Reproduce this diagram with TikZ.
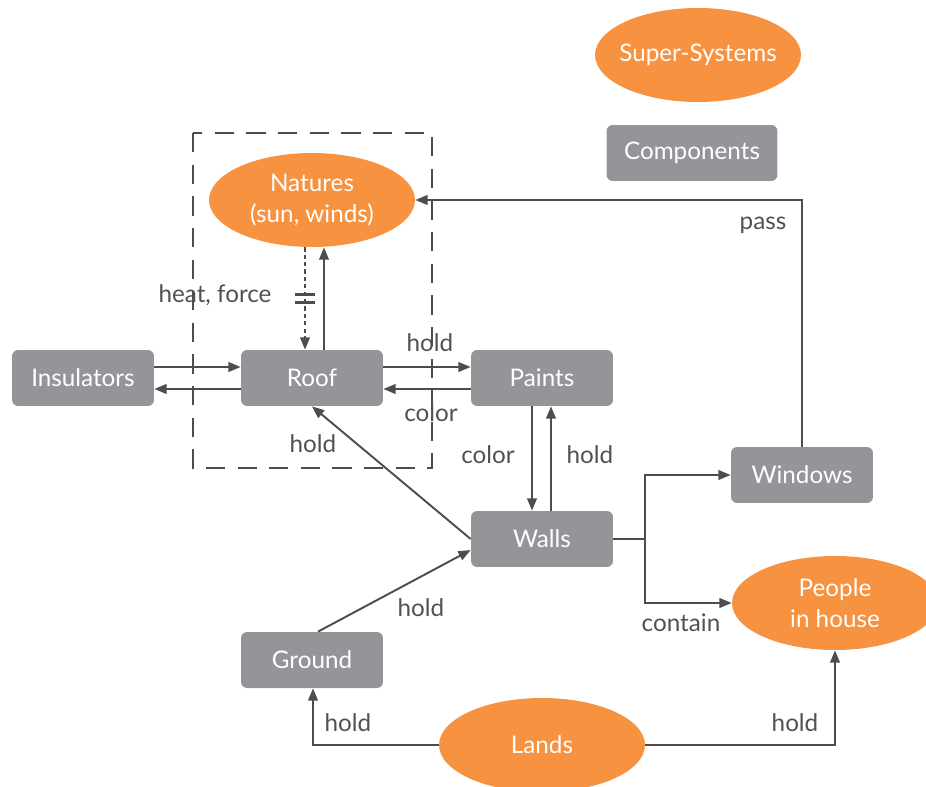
\documentclass[tikz,border=0pt]{standalone}
\usepackage{fontspec}
\setmainfont{Lato}
\usetikzlibrary{shapes.geometric,arrows.meta}
\definecolor{boxgray}{HTML}{939598}
\definecolor{sysorange}{HTML}{F69240}
\definecolor{linegray}{HTML}{4D4D4F}
\definecolor{txtgray}{HTML}{505153}
\tikzset{
  comp/.style={rectangle, rounded corners=3.5pt, fill=boxgray, text=white,
    minimum width=2.84cm, minimum height=1.12cm, inner sep=0pt},
  supsys/.style={ellipse, fill=sysorange, text=white, align=center,
    minimum width=4.12cm, minimum height=1.88cm, inner sep=0pt},
  link/.style={draw=linegray, line width=1.1pt,
    -{Triangle[length=7pt,width=5.5pt]}},
  lbl/.style={text=txtgray}
}
\begin{document}
\begin{tikzpicture}[x=0.02cm, y=-0.02cm,
    font=\fontsize{13.8}{17.5}\selectfont]
  \useasboundingbox (0,0) rectangle (926,787);

  % legend
  \node[supsys, inner xsep=-0.12cm] (legsys) at (698,55) {Super-Systems};
  \node[comp, minimum width=3.42cm] (legcomp) at (692,153) {Components};

  % system boundary
  \draw[linegray, line width=1pt, dash pattern=on 11pt off 7pt] (193,133) rectangle (432,468);

  % nodes
  \node[supsys] (nat)   at (312,200) {Natures\\(sun, winds)};
  \node[comp]   (ins)   at (83,378)  {Insulators};
  \node[comp]   (roof)  at (312,378) {Roof};
  \node[comp]   (paint) at (542,378) {Paints};
  \node[comp]   (walls) at (542,539) {Walls};
  \node[comp]   (win)   at (802,475) {Windows};
  \node[supsys] (ppl)   at (835,603) {People\\in house};
  \node[comp]   (grd)   at (312,660) {Ground};
  \node[supsys] (lands) at (542,745) {Lands};

  % roof and its neighbours
  \draw[link] ([yshift=0.22cm]ins.east) -- ([yshift=0.22cm]roof.west);
  \draw[link] ([yshift=-0.22cm]roof.west) -- ([yshift=-0.22cm]ins.east);
  \draw[link] ([yshift=0.22cm]roof.east) -- ([yshift=0.22cm]paint.west);
  \draw[link] ([yshift=-0.22cm]paint.west) -- ([yshift=-0.22cm]roof.east);
  \draw[link] ([xshift=0.24cm]roof.north) -- ([xshift=0.24cm]nat.south);
  \draw[link, dash pattern=on 2.4pt off 1.8pt] ([xshift=-0.14cm]nat.south)
    -- coordinate[pos=0.5] (brk) ([xshift=-0.14cm]roof.north);
  \draw[linegray, line width=1.2pt] ([xshift=-0.2cm,yshift=0.08cm]brk) -- +(0.4cm,0)
    ([xshift=-0.2cm,yshift=-0.08cm]brk) -- +(0.4cm,0);

  % paints and walls
  \draw[link] ([xshift=-0.2cm]paint.south) -- ([xshift=-0.2cm]walls.north);
  \draw[link] ([xshift=0.18cm]walls.north) -- ([xshift=0.18cm]paint.south);
  \draw[link] (walls.west) -- (roof.south);
  \draw[link] ([xshift=0.12cm]grd.north) -- ([yshift=-0.22cm]walls.west);

  % walls to windows and people
  \coordinate (split) at ([xshift=0.64cm]walls.east);
  \draw[link] (walls.east) -- (split) |- (win.west);
  \draw[link] (split) |- (ppl.west);
  \draw[link] (win.north) |- (nat.east);

  % lands
  \draw[link] (lands.west) -| ([xshift=0.02cm]grd.south);
  \draw[link] (lands.east) -| (ppl.south);

  % labels
  \node[lbl] (lheat)  at (215,295) {heat, force};
  \node[lbl] (lhold1) at (430,343) {hold};
  \node[lbl] (lcol1)  at (431,413) {color};
  \node[lbl] (lhold2) at (313,444) {hold};
  \node[lbl] (lcol2)  at (488,455) {color};
  \node[lbl] (lhold3) at (590,455) {hold};
  \node[lbl] (lhold4) at (421,608) {hold};
  \node[lbl] (lcont)  at (681,623) {contain};
  \node[lbl] (lpass)  at (763,225) {pass};
  \node[lbl] (lhold5) at (348,723) {hold};
  \node[lbl] (lhold6) at (795,723) {hold};
\end{tikzpicture}
\end{document}
